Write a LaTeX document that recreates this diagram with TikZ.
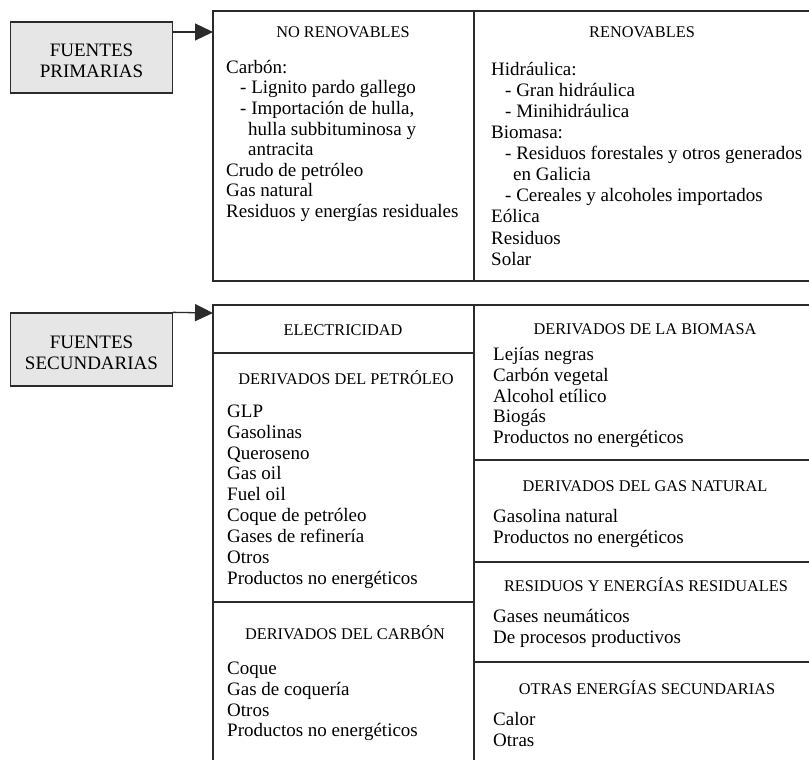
\documentclass[tikz,border=0pt]{standalone}
\usepackage{fontspec}
\setmainfont{Liberation Serif}
\usetikzlibrary{arrows.meta}
\definecolor{linec}{HTML}{2B2B2B}
\definecolor{boxfill}{HTML}{E6E6E6}
\newcommand{\ia}{\hspace*{14pt}}
\newcommand{\ib}{\hspace*{22pt}}
\begin{document}
\begin{tikzpicture}[x=1pt,y=-1pt,
  rule/.style={draw=linec, line width=1.3pt},
  srcbox/.style={draw=linec, fill=boxfill, line width=1.3pt, minimum width=162pt, inner sep=0pt},
  srctext/.style={align=center, font=\fontsize{19}{21}\selectfont, inner sep=0pt},
  hdr/.style={anchor=base, font=\fontsize{16.3}{18}\selectfont, inner sep=0pt},
  body/.style={anchor=north west, align=left, inner sep=0pt, font=\fontsize{19}{#1}\selectfont, yshift=0.7*#1pt},
  body/.default=20.9,
  conn/.style={draw=linec, line width=1.3pt, -{Triangle[length=18pt,width=17pt]}}
]
\useasboundingbox (0,0) rectangle (809,760);

% source boxes
\node[srcbox, minimum height=71pt] (prim) at (91.5,57.5) {};
\node[srctext] (primtxt) at ([yshift=-3pt]prim.center) {FUENTES\\PRIMARIAS};
\node[srcbox, minimum height=73pt] (sec) at (91.5,349.5) {};
\node[srctext] (sectxt) at ([yshift=-3.5pt]sec.center) {FUENTES\\SECUNDARIAS};

% upper table
\coordinate (ptab) at (213,32);
\draw[rule] (809,11) -- (213,11) -- (213,281) -- (809,281);
\draw[rule] (474,11) -- (474,281);

% lower table
\coordinate (stab) at (213,313);
\draw[rule] (809,305) -- (213,305) -- (213,760);
\draw[rule] (474,305) -- (474,760);
\draw[rule] (213,353) -- (474,353);
\draw[rule] (213,602) -- (474,602);
\draw[rule] (474,460) -- (809,460);
\draw[rule] (474,562) -- (809,562);
\draw[rule] (474,662) -- (809,662);

% connectors
\draw[conn] (prim.east |- ptab) -- (ptab);
\draw[conn] (sec.north east) -- (stab);

% headers
\node[hdr] (hnr) at (343,38) {NO RENOVABLES};
\node[hdr] (hr) at (642,38) {RENOVABLES};
\node[hdr] (hel) at (343,335) {ELECTRICIDAD};
\node[hdr] (hpe) at (346,384) {DERIVADOS DEL PETRÓLEO};
\node[hdr] (hca) at (345,639) {DERIVADOS DEL CARBÓN};
\node[hdr] (hbi) at (645,334) {DERIVADOS DE LA BIOMASA};
\node[hdr] (hgn) at (645,491) {DERIVADOS DEL GAS NATURAL};
\node[hdr] (hre) at (646,591) {RESIDUOS Y ENERGÍAS RESIDUALES};
\node[hdr] (hot) at (647,694) {OTRAS ENERGÍAS SECUNDARIAS};

% bodies
\node[body=20.6] (bnr) at (226,73) {\strut Carbón:\\
\ia- Lignito pardo gallego\\
\ia- Importación de hulla,\\
\ib hulla subbituminosa y\\
\ib antracita\\
Crudo de petróleo\\
Gas natural\\
Residuos y energías residuales};

\node[body=21.1] (br) at (491,75) {\strut Hidráulica:\\
\ia- Gran hidráulica\\
\ia- Minihidráulica\\
Biomasa:\\
\ia- Residuos forestales y otros generados\\
\ib en Galicia\\
\ia- Cereales y alcoholes importados\\
Eólica\\
Residuos\\
Solar};

\node[body] (bpe) at (227,417) {\strut GLP\\Gasolinas\\Queroseno\\Gas oil\\Fuel oil\\Coque de petróleo\\Gases de refinería\\Otros\\Productos no energéticos};
\node[body] (bca) at (227,674) {\strut Coque\\Gas de coquería\\Otros\\Productos no energéticos};
\node[body] (bbi) at (493,360) {\strut Lejías negras\\Carbón vegetal\\Alcohol etílico\\Biogás\\Productos no energéticos};
\node[body] (bgn) at (493,522) {\strut Gasolina natural\\Productos no energéticos};
\node[body] (bre) at (493,622) {\strut Gases neumáticos\\De procesos productivos};
\node[body] (bot) at (493,725) {\strut Calor\\Otras};
\end{tikzpicture}
\end{document}
